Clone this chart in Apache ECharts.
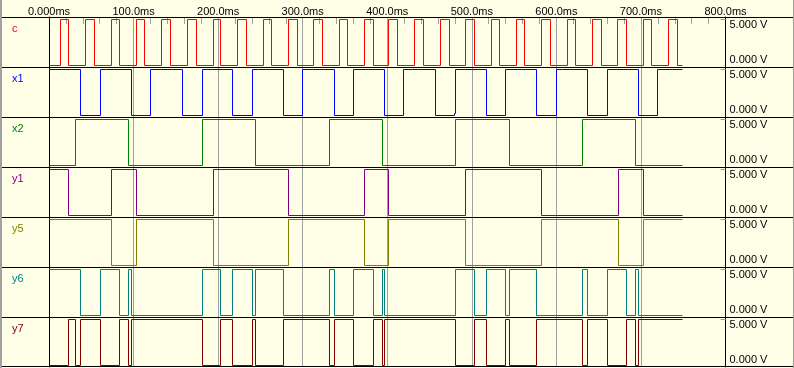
<!DOCTYPE html>
<html><head><meta charset="utf-8">
<script src="https://cdn.jsdelivr.net/npm/echarts@6/dist/echarts.min.js"></script>
<style>html,body{margin:0;padding:0;background:#FFFFE8;}#chart{width:794px;height:368px;}</style>
</head><body><div id="chart"></div>
<script>
// ---- data ----
const timeTickLabels = ['0.000ms','100.0ms','200.0ms','300.0ms','400.0ms','500.0ms','600.0ms','700.0ms','800.0ms'];
const voltHighLabel = '5.000 V';
const voltLowLabel = '0.000 V';
const channelNames = ['c','x1','x2','y1','y5','y6','y7'];
const highVolts = 5;
const endTime = 749;
// initial level (V) and toggle times (ms) per channel
const cInit = 0;
const cEdges = [13.1,23.0,42.9,53.6,73.8,83.3,103.6,113.1,133.3,144.0,164.3,174.2,194.4,202.4,222.6,233.3,253.6,263.1,283.3,293.3,312.9,323.4,343.4,352.7,372.7,383.2,401.6,412.6,432.8,442.3,462.5,473.1,492.1,502.8,523.1,532.9,552.9,562.7,582.4,592.9,612.6,622.5,642.3,653.0,672.7,683.0,703.1,712.5,732.5,743.1];
const x1Init = 5;
const x1Edges = [36.9,60.7,97.6,120.2,158.3,181.0,216.7,240.5,277.4,300.0,337.5,359.8,396.5,419.8,456.5,480.2,517.3,539.6,576.1,599.6,636.4,660.1,697.2,719.6];
const x1Glitch = [[479.0,0.2]];
const x2Init = 0;
const x2Edges = [31.3,94.0,182.1,244.0,331.6,393.8,480.6,544.3,630.6,693.7];
const y1Init = 5;
const y1Edges = [22.6,73.8,103.6,194.0,283.3,372.7,402.0,492.5,582.0,673.4,703.1];
const y5Init = 5;
const y5Edges = [73.8,103.6,194.0,283.3,372.7,402.0,492.5,582.0,673.4,703.1];
const y6Init = 5;
const y6Edges = [36.9,60.7,83.3,94.0,97.6,182.1,202.4,216.7,240.5,244.0,277.4,331.6,337.5,359.8,383.2,393.8,396.5,480.6,503.1,517.3,539.6,544.3,576.1,630.6,636.4,660.1,683.3,693.7,697.2];
const y7Init = 0;
const y7Edges = [22.6,31.0,36.9,60.7,83.3,94.0,97.6,182.1,202.4,216.7,240.5,244.0,277.4,331.6,337.5,359.8,383.2,393.8,396.5,480.6,503.1,517.3,539.6,544.3,576.1,630.6,636.4,660.1,683.3,693.7,697.2];

// ---- styles ----
const channelColors = ['#FF0000','#0000FF','#008000','#800080','#808000','#008080','#800000'];
const FONT = 'Liberation Sans, Arial, sans-serif';
const BG = '#FFFFE8';
const GRIDC = '#A0A0A0';

function buildWave(init, edges, extra) {
  let lvl = init;
  const pts = [[0, lvl]];
  for (const t of edges) { lvl = (lvl > 0) ? 0 : highVolts; pts.push([t, lvl]); }
  pts.push([endTime, lvl]);
  if (extra) for (const [t, v] of extra) { const idx = pts.findIndex(p => p[0] > t); pts.splice(idx, 0, [t, v]); }
  const segs = [];   // [tStart, tEnd, level, nextLevel]
  for (let k = 0; k < pts.length - 1; k++) segs.push([pts[k][0], pts[k + 1][0], pts[k][1], pts[k + 1][1]]);
  return segs;
}
const waves = [buildWave(cInit, cEdges), buildWave(x1Init, x1Edges, x1Glitch), buildWave(x2Init, x2Edges),
  buildWave(y1Init, y1Edges), buildWave(y5Init, y5Edges), buildWave(y6Init, y6Edges), buildWave(y7Init, y7Edges)];

const snap = v => Math.round(v - 0.5) + 0.5;
function makeRender(color) {
  return function (params, api) {
    const a = api.coord([api.value(0), api.value(2)]);
    const b = api.coord([api.value(1), api.value(2)]);
    const c = api.coord([api.value(1), api.value(3)]);
    const pts = [[snap(a[0]), snap(a[1])], [snap(b[0]), snap(b[1])], [snap(c[0]), snap(c[1])]];
    return {type: 'polyline', shape: {points: pts}, silent: true, style: {stroke: color, lineWidth: 1, fill: null}};
  };
}

const ROW0 = 17, ROWH = 50, LEFT = 49, WIDTH = 676.5, NROW = channelNames.length;
const grids = [], xAxes = [], yAxes = [], series = [], titles = [], graphics = [];
const hidden = {axisLine: {show: false}, axisTick: {show: false}, axisLabel: {show: false}, splitLine: {show: false}};

// grid 0: background with vertical time grid and plot borders
grids.push({left: LEFT, top: ROW0, width: WIDTH, height: ROWH * NROW});
xAxes.push(Object.assign({}, hidden, {gridIndex: 0, type: 'value', min: 0, max: 800, interval: 100,
  splitLine: {show: true, showMinLine: false, showMaxLine: false, lineStyle: {color: GRIDC, width: 1}}}));
yAxes.push(Object.assign({}, hidden, {gridIndex: 0, type: 'value', min: 0, max: 1, position: 'left',
  axisLine: {show: true, onZero: false, lineStyle: {color: '#000', width: 1}}}));
yAxes.push(Object.assign({}, hidden, {gridIndex: 0, type: 'value', min: 0, max: 1, position: 'right',
  axisLine: {show: true, onZero: false, lineStyle: {color: '#000', width: 1}}}));

// grid 1: minor tick strip under the time labels
grids.push({left: LEFT, top: ROW0 + 1, width: WIDTH, height: 6});
xAxes.push(Object.assign({}, hidden, {gridIndex: 1, type: 'value', position: 'top', min: 0, max: 800, interval: 20,
  splitLine: {show: true, showMinLine: false, showMaxLine: false, lineStyle: {color: GRIDC, width: 1}},
  axisLabel: {show: true, margin: 1, color: '#000', fontSize: 11, fontFamily: FONT,
    formatter: v => (v % 100 === 0) ? timeTickLabels[v / 100] : ''}}));
yAxes.push(Object.assign({}, hidden, {gridIndex: 1, type: 'value', min: 0, max: 1}));

// channel rows
channelNames.forEach((name, i) => {
  const g = grids.length;
  const top = ROW0 + ROWH * i;
  grids.push({left: LEFT, top: top + 2.5, width: WIDTH, height: ROWH - 4});
  const xi = xAxes.length;
  xAxes.push(Object.assign({}, hidden, {gridIndex: g, type: 'value', min: 0, max: 800, show: false}));
  const yi = yAxes.length;
  yAxes.push(Object.assign({}, hidden, {gridIndex: g, type: 'value', min: 0, max: highVolts, interval: highVolts, position: 'left'}));
  yAxes.push(Object.assign({}, hidden, {gridIndex: g, type: 'value', min: 0, max: highVolts, interval: highVolts, position: 'right',
    axisTick: {show: true, inside: true, length: 5, lineStyle: {color: GRIDC}},
    axisLabel: {show: true, showMinLabel: false, formatter: () => voltHighLabel, verticalAlign: 'top',
      margin: 4, color: '#000', fontSize: 11, fontFamily: FONT}}));
  yAxes.push(Object.assign({}, hidden, {gridIndex: g, type: 'value', min: 0, max: highVolts, interval: highVolts, position: 'right',
    axisLabel: {show: true, showMaxLabel: false, formatter: () => voltLowLabel, verticalAlign: 'bottom',
      margin: 4, color: '#000', fontSize: 11, fontFamily: FONT}}));
  series.push({type: 'custom', name: name, xAxisIndex: xi, yAxisIndex: yi, data: waves[i],
    encode: {x: [0, 1], y: [2, 3]}, renderItem: makeRender(channelColors[i]), clip: false, silent: true, z: 3});
  titles.push({text: name, left: 12, top: top + 6, padding: 0,
    textStyle: {color: channelColors[i], fontSize: 11, fontWeight: 'normal', fontFamily: FONT}});
});

// row separators and window edges
for (let i = 0; i <= NROW; i++) {
  const y = (i < NROW) ? ROW0 + ROWH * i + 0.5 : 366.5;
  graphics.push({type: 'line', shape: {x1: 0, y1: y, x2: 794, y2: y}, style: {stroke: '#000', lineWidth: 1}, z: 10, silent: true});
}
graphics.push({type: 'rect', shape: {x: 0, y: 0, width: 2, height: 368}, style: {fill: GRIDC}, z: 11, silent: true});
graphics.push({type: 'line', shape: {x1: 793.5, y1: 0, x2: 793.5, y2: 368}, style: {stroke: GRIDC, lineWidth: 1}, z: 11, silent: true});

const chart = echarts.init(document.getElementById('chart'), null, {renderer: 'canvas'});
chart.setOption({animation: false, backgroundColor: BG, title: titles, grid: grids, xAxis: xAxes, yAxis: yAxes, series: series, graphic: graphics});
</script></body></html>
